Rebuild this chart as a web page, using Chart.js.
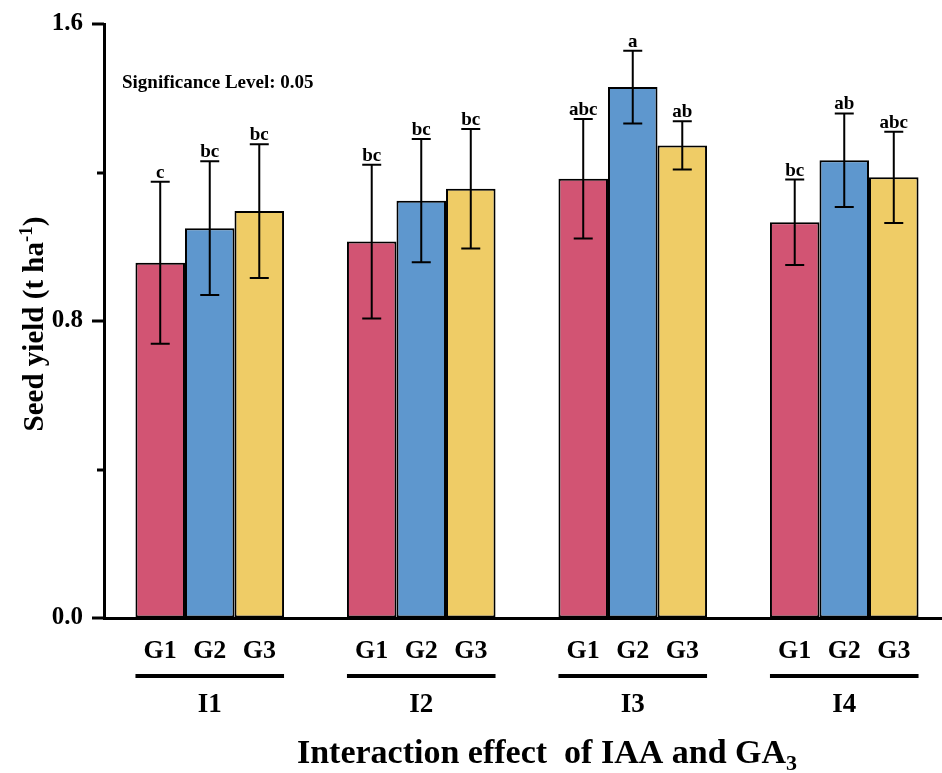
<!DOCTYPE html>
<html>
<head>
<meta charset="utf-8">
<script src="https://cdn.jsdelivr.net/npm/chart.js@4"></script>
<style>
  html, body { margin: 0; padding: 0; background: #fff; overflow: hidden; }
  #wrap { width: 950px; height: 773px; }
</style>
</head>
<body>
<div id="wrap"><canvas id="c" width="950" height="773"></canvas></div>
<script>
// ---- data ----
const groups = ['I1', 'I2', 'I3', 'I4'];
const seriesNames = ['G1', 'G2', 'G3'];
const g1Values = [0.957, 1.014, 1.183, 1.066];
const g2Values = [1.050, 1.124, 1.430, 1.233];
const g3Values = [1.096, 1.156, 1.273, 1.187];
const g1Errors = [0.218, 0.207, 0.161, 0.115];
const g2Errors = [0.180, 0.166, 0.098, 0.126];
const g3Errors = [0.180, 0.161, 0.065, 0.123];
const g1Letters = ['c', 'bc', 'abc', 'bc'];
const g2Letters = ['bc', 'bc', 'a', 'ab'];
const g3Letters = ['bc', 'bc', 'ab', 'abc'];
const yTicks = [0, 0.4, 0.8, 1.2, 1.6];
const yLabelTicks = [0, 0.8, 1.6];
const sigText = 'Significance Level: 0.05';

const values = [g1Values, g2Values, g3Values];
const errors = [g1Errors, g2Errors, g3Errors];
const letters = [g1Letters, g2Letters, g3Letters];
const colors = ['#D25473', '#5E97CE', '#EFCC66'];
const FONT = '"Liberation Serif", "Times New Roman", serif';

const decorPlugin = {
  id: 'decor',
  afterDatasetsDraw(chart) {
    const ctx = chart.ctx;
    const y = chart.scales.y;
    ctx.save();
    for (let d = 0; d < values.length; d++) {
      const meta = chart.getDatasetMeta(d);
      meta.data.forEach((bar, i) => {
        const v = values[d][i], e = errors[d][i];
        const yt = y.getPixelForValue(v + e);
        const yb = y.getPixelForValue(v - e);
        ctx.strokeStyle = '#000';
        ctx.lineWidth = 2;
        ctx.beginPath();
        ctx.moveTo(bar.x, yt); ctx.lineTo(bar.x, yb);
        ctx.moveTo(bar.x - 9.5, yt); ctx.lineTo(bar.x + 9.5, yt);
        ctx.moveTo(bar.x - 9.5, yb); ctx.lineTo(bar.x + 9.5, yb);
        ctx.stroke();
        ctx.fillStyle = '#000';
        ctx.font = 'bold 19px ' + FONT;
        ctx.textAlign = 'center';
        ctx.textBaseline = 'alphabetic';
        ctx.fillText(letters[d][i], bar.x, yt - 4);
      });
    }
    ctx.restore();
  },
  afterDraw(chart) {
    const ctx = chart.ctx;
    const y = chart.scales.y;
    const area = chart.chartArea;
    ctx.save();
    ctx.strokeStyle = '#000';
    ctx.fillStyle = '#000';
    ctx.lineWidth = 3;
    yTicks.forEach(t => {
      const py = Math.round(y.getPixelForValue(t));
      const len = yLabelTicks.includes(t) ? 12 : 7;
      ctx.beginPath();
      ctx.moveTo(area.left - len, py);
      ctx.lineTo(area.left, py);
      ctx.stroke();
    });
    ctx.textAlign = 'center';
    ctx.textBaseline = 'alphabetic';
    const metas = seriesNames.map((_, d) => chart.getDatasetMeta(d));
    groups.forEach((g, i) => {
      metas.forEach((meta, d) => {
        const bar = meta.data[i];
        ctx.font = 'bold 26px ' + FONT;
        ctx.fillText(seriesNames[d], bar.x, 658);
      });
      const first = metas[0].data[i], last = metas[metas.length - 1].data[i];
      const x0 = first.x - first.width / 2, x1 = last.x + last.width / 2;
      ctx.lineWidth = 4;
      ctx.beginPath();
      ctx.moveTo(x0, 676); ctx.lineTo(x1, 676);
      ctx.stroke();
      ctx.font = 'bold 27px ' + FONT;
      ctx.fillText(g, (x0 + x1) / 2, 712);
    });
    const mainX = 'Interaction effect  of IAA and GA';
    ctx.font = 'bold 34px ' + FONT;
    const w1 = ctx.measureText(mainX).width;
    ctx.font = 'bold 22px ' + FONT;
    const w2 = ctx.measureText('3').width;
    let sx = 547 - (w1 + w2) / 2;
    ctx.textAlign = 'left';
    ctx.font = 'bold 34px ' + FONT;
    ctx.fillText(mainX, sx, 763);
    ctx.font = 'bold 22px ' + FONT;
    ctx.fillText('3', sx + w1, 770);
    ctx.save();
    ctx.translate(43, 324);
    ctx.rotate(-Math.PI / 2);
    const ya = 'Seed yield (t ha', yb = '-1', yc = ')';
    ctx.font = 'bold 29px ' + FONT;
    const wa = ctx.measureText(ya).width, wc = ctx.measureText(yc).width;
    ctx.font = 'bold 19px ' + FONT;
    const wb = ctx.measureText(yb).width;
    let tx = -(wa + wb + wc) / 2;
    ctx.font = 'bold 29px ' + FONT;
    ctx.fillText(ya, tx, 0);
    ctx.font = 'bold 19px ' + FONT;
    ctx.fillText(yb, tx + wa, -11);
    ctx.font = 'bold 29px ' + FONT;
    ctx.fillText(yc, tx + wa + wb, 0);
    ctx.restore();
    ctx.font = 'bold 19px ' + FONT;
    ctx.textAlign = 'left';
    ctx.fillText(sigText, 122, 88);
    ctx.restore();
  }
};

new Chart(document.getElementById('c'), {
  type: 'bar',
  data: {
    labels: groups,
    datasets: seriesNames.map((n, d) => ({
      label: n,
      data: values[d],
      backgroundColor: colors[d],
      borderColor: '#000',
      borderWidth: 2,
      borderSkipped: false,
      categoryPercentage: 0.7025,
      barPercentage: 1.0
    }))
  },
  options: {
    responsive: false,
    animation: false,
    devicePixelRatio: 1,
    layout: { padding: { top: 22, right: 0, left: 0, bottom: 0 } },
    plugins: { legend: { display: false }, tooltip: { enabled: false }, title: { display: false } },
    scales: {
      x: {
        grid: { display: false },
        border: { display: true, color: '#000', width: 3 },
        ticks: { display: false },
        afterFit(s) { s.height = 155; }
      },
      y: {
        min: 0, max: 1.6,
        grid: { display: true, drawOnChartArea: false, drawTicks: true, tickLength: 12, tickColor: 'rgba(0,0,0,0)' },
        border: { display: true, color: '#000', width: 3 },
        ticks: {
          stepSize: 0.4,
          padding: 9,
          color: '#000',
          font: { family: FONT, size: 25, weight: 'bold' },
          callback(v) { return yLabelTicks.some(t => Math.abs(t - v) < 1e-6) ? Number(v).toFixed(1) : ''; }
        },
        afterFit(s) { s.width = 104; }
      }
    }
  },
  plugins: [decorPlugin]
});
</script>
</body>
</html>
